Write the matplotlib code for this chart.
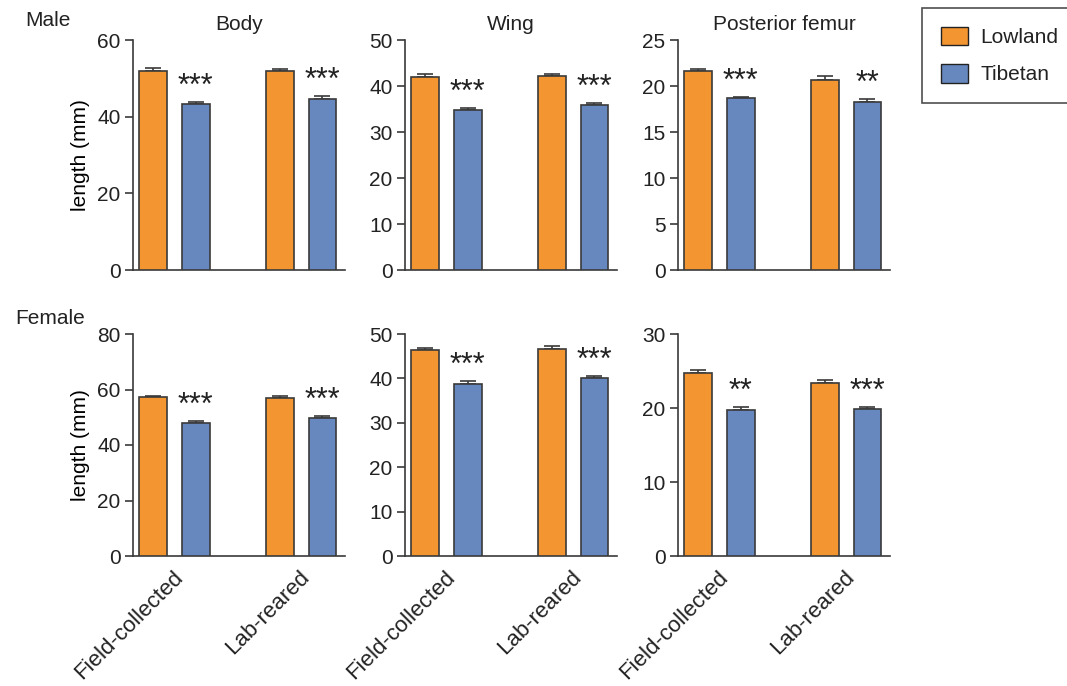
import matplotlib
matplotlib.use("Agg")
import matplotlib.pyplot as plt
from matplotlib.patches import Patch

plt.rcParams['font.family'] = ['Liberation Sans', 'DejaVu Sans']
plt.rcParams['text.color'] = "#222222"
plt.rcParams['xtick.color'] = "#222222"
plt.rcParams['ytick.color'] = "#222222"

groups = ["Field-collected", "Lab-reared"]
traits = ["Body", "Wing", "Posterior femur"]

# Male means and SE (Lowland, Tibetan) per group
male_lowland = [[52.0, 52.0], [42.0, 42.2], [21.6, 20.7]]
male_lowland_err = [[0.7, 0.5], [0.5, 0.5], [0.3, 0.35]]
male_tibetan = [[43.2, 44.7], [34.7, 35.8], [18.7, 18.3]]
male_tibetan_err = [[0.6, 0.7], [0.5, 0.6], [0.15, 0.25]]
male_sig = [["***", "***"], ["***", "***"], ["***", "**"]]

# Female
female_lowland = [[57.2, 57.0], [46.3, 46.7], [24.7, 23.4]]
female_lowland_err = [[0.5, 0.6], [0.6, 0.6], [0.4, 0.4]]
female_tibetan = [[48.0, 49.8], [38.7, 40.0], [19.7, 19.9]]
female_tibetan_err = [[0.8, 0.6], [0.7, 0.5], [0.5, 0.25]]
female_sig = [["***", "***"], ["***", "***"], ["**", "***"]]

ymax = [[60, 50, 25], [80, 50, 30]]
ystep = [[20, 10, 5], [20, 10, 10]]

c_low = "#F39530"
c_tib = "#6788BF"
edge = "#3a3a3a"
fs = 15

fig = plt.figure(figsize=(10.67, 6.86), dpi=100)

lefts = [133 / 1067, 405 / 1067, 678 / 1067]
width = 212 / 1067
rows = [(1 - 270 / 686, 230 / 686), (1 - 556 / 686, 222 / 686)]

pos_low = [0, 2.97]
pos_tib = [1, 3.97]
bw = 0.65

data = [
    (male_lowland, male_lowland_err, male_tibetan, male_tibetan_err, male_sig),
    (female_lowland, female_lowland_err, female_tibetan, female_tibetan_err, female_sig),
]

for r, (low, low_e, tib, tib_e, sig) in enumerate(data):
    bottom, height = rows[r]
    for c in range(3):
        ax = fig.add_axes([lefts[c], bottom, width, height])
        ax.bar(pos_low, low[c], bw, color=c_low, edgecolor=edge, linewidth=1.2, zorder=3)
        ax.bar(pos_tib, tib[c], bw, color=c_tib, edgecolor=edge, linewidth=1.2, zorder=3)
        ax.errorbar(pos_low, low[c], yerr=[[0, 0], low_e[c]], fmt='none',
                    ecolor=edge, elinewidth=1.2, capsize=6, capthick=1.2, zorder=2)
        ax.errorbar(pos_tib, tib[c], yerr=[[0, 0], tib_e[c]], fmt='none',
                    ecolor=edge, elinewidth=1.2, capsize=6, capthick=1.2, zorder=2)
        for i in range(2):
            top = tib[c][i] + tib_e[c][i]
            ax.annotate(sig[c][i], (pos_tib[i], top), xytext=(0, 0),
                        textcoords="offset points", ha='center', va='bottom',
                        fontsize=22, color="#222222")
        ax.set_xlim(-0.47, 4.5)
        ax.set_ylim(0, ymax[r][c])
        ax.set_yticks(range(0, ymax[r][c] + 1, ystep[r][c]))
        for s in ["top", "right"]:
            ax.spines[s].set_visible(False)
        for s in ["left", "bottom"]:
            ax.spines[s].set_color(edge)
            ax.spines[s].set_linewidth(1.2)
        ax.tick_params(axis='y', labelsize=fs, length=6, width=1.2, color=edge, pad=3)
        ax.tick_params(axis='x', length=0, labelsize=16, pad=8)
        if r == 1:
            ax.set_xticks([(pos_low[0] + pos_tib[0]) / 2 - 0.05, (pos_low[1] + pos_tib[1]) / 2 - 0.05])
            ax.set_xticklabels(groups, rotation=45, ha='right', rotation_mode='anchor')
        else:
            ax.set_xticks([])
            ax.set_title(traits[c], fontsize=fs, pad=7)
        if c == 0:
            ax.set_ylabel("length (mm)", fontsize=fs, labelpad=5)

fig.text(25 / 1067, 1 - 20 / 686, "Male", fontsize=fs, va='center')
fig.text(15 / 1067, 1 - 318 / 686, "Female", fontsize=fs, va='center')

handles = [Patch(facecolor=c_low, edgecolor="#222222", label="Lowland"),
           Patch(facecolor=c_tib, edgecolor="#222222", label="Tibetan")]
leg = fig.legend(handles=handles, loc='upper left', bbox_to_anchor=(922 / 1067, 1 - 8 / 686),
                 borderaxespad=0, fontsize=fs, frameon=True, fancybox=False, borderpad=0.9,
                 handlelength=1.3, handleheight=1.0, labelspacing=0.8, handletextpad=0.6)
leg.get_frame().set_edgecolor("#222222")
leg.get_frame().set_linewidth(1.2)

fig.savefig("out.png", dpi=100)
